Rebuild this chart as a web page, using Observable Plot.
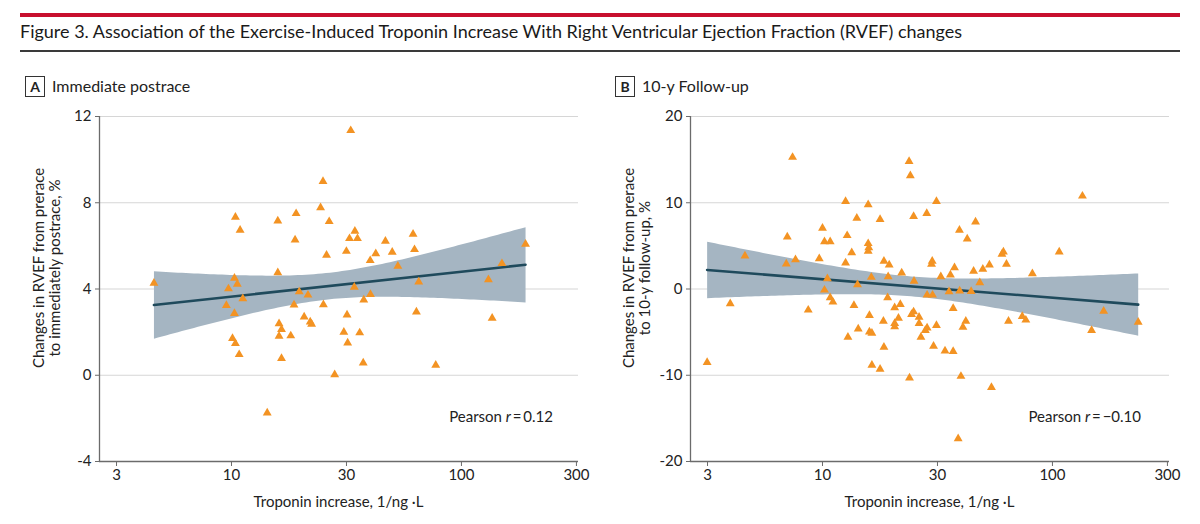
<!DOCTYPE html>
<html><head><meta charset="utf-8">
<script src="https://cdn.jsdelivr.net/npm/d3@7"></script>
<script src="https://cdn.jsdelivr.net/npm/@observablehq/plot@0.6"></script>
<style>
body{margin:0;background:#fff;}
#root{position:relative;width:1200px;height:524px;overflow:hidden;font-family:Lato,"Open Sans",sans-serif;color:#222;}
.abs{position:absolute;white-space:nowrap;}
.svgwrap{position:absolute;}
.svgwrap svg text{font-size:15px !important;fill:#222;}
</style></head><body><div id="root"></div>
<script>
const titleText = "Figure 3. Association of the Exercise-Induced Troponin Increase With Right Ventricular Ejection Fraction (RVEF) changes";
const panelLetters = ["A", "B"];
const panelTitles = ["Immediate postrace", "10-y Follow-up"];
const yLabelLinesA = ["Changes in RVEF from prerace", "to immediately postrace, %"];
const yLabelLinesB = ["Changes in RVEF from prerace", "to 10-y follow-up, %"];
const xLabel = "Troponin increase, 1/ng \u00b7L";
const xTickLabels = ["3", "10", "30", "100", "300"];
const xTickExponents = [0.5, 1, 1.5, 2, 2.5];
const yTicksA = [-4, 0, 4, 8, 12];
const yTicksB = [-20, -10, 0, 10, 20];
const pearsonR = ["0.12", "\u22120.10"];

const troponinA = [4.6,9.7,10.3,10.6,10.4,10.9,11.2,9.5,10.3,10.1,10.4,10.8,14.3,15.9,15.9,16.1,16.5,16.1,16.5,18.1,18.7,18.9,19.1,19.7,20.7,21.5,22.0,22.3,24.4,25.0,26.6,25.9,25.1,28.1,30.8,31.6,31.8,32.0,32.6,33.0,34.4,35.3,34.2,36.1,37.6,37.4,40.2,40.1,42.4,46.7,50.0,52.9,61.6,62.5,63.7,65.2,77.3,131,136,150,190];
const rvefA = [4.27,4.01,4.50,4.22,7.33,6.73,3.55,3.24,2.87,1.71,1.47,0.96,-1.75,7.16,4.76,2.39,2.13,1.81,0.78,1.83,3.26,6.28,7.50,3.87,2.71,3.72,2.47,2.37,7.77,8.99,7.13,5.57,3.27,0.03,2.00,5.75,2.80,1.50,6.34,11.35,6.68,6.34,4.09,1.97,3.49,0.57,3.75,5.32,5.64,6.22,5.71,5.06,6.54,5.83,2.94,4.33,0.47,4.43,2.65,5.18,6.08];

const troponinB = [3.15,3.97,4.60,7.41,7.03,6.96,7.63,8.67,9.68,10.0,10.2,10.8,10.5,10.2,10.8,11.1,12.6,12.8,12.6,13.4,12.9,13.7,14.1,14.2,14.3,15.8,15.8,15.9,15.8,16.0,16.0,16.3,16.4,16.4,17.8,17.8,18.5,18.4,18.5,19.2,19.3,19.5,20.6,20.6,20.6,21.4,21.8,22.1,23.8,24.1,23.9,24.4,24.9,24.9,25.0,26.3,26.3,26.8,28.0,28.5,28.4,28.5,30.1,29.8,30.0,30.4,31.3,31.3,32.7,34.1,35.5,36.0,37.0,37.0,37.5,38.9,39.4,39.5,40.0,40.8,42.0,42.6,44.3,45.4,46.3,48.3,49.8,53.2,54.3,60.3,61.2,63.1,64.4,73.9,76.6,81.8,107,135,148,167,236];
const rvefB = [-8.52,-1.71,3.84,15.27,6.05,2.91,3.41,-2.44,3.52,7.06,5.50,5.50,1.20,-0.12,-1.01,-1.51,10.15,6.20,3.02,4.22,-5.58,-1.90,8.22,0.50,-4.62,9.77,5.27,4.80,4.38,-3.06,-4.97,1.36,-5.12,-8.84,8.06,-9.30,3.22,-3.72,-6.74,-1.01,1.43,2.79,-2.17,-3.99,-4.38,-3.37,-1.78,1.86,14.80,13.14,-10.31,-2.94,-2.64,8.41,0.90,-3.26,-3.99,-5.58,-4.80,-4.50,8.76,-0.70,-0.70,2.87,3.22,-6.63,10.15,-4.22,1.43,-7.17,-0.31,1.63,-2.24,-7.24,2.48,-17.36,6.83,-0.23,-10.12,-4.42,-3.72,5.81,-0.27,2.06,7.79,0.73,2.29,2.79,-11.40,4.03,4.30,2.87,-3.72,-3.17,-3.60,1.78,4.30,10.78,-4.80,-2.56,-3.84];

const FONT = 'Lato, "Open Sans", sans-serif';
const root = document.getElementById("root");
function addDiv(html, css) {
  const d = document.createElement("div");
  d.className = "abs";
  d.innerHTML = html;
  Object.assign(d.style, css);
  root.appendChild(d);
  return d;
}

// header
addDiv("", {left: "20px", top: "13px", width: "1160px", height: "4px", background: "#c8102e"});
addDiv(titleText, {left: "20px", top: "21px", fontSize: "18px", lineHeight: "20px", color: "#1a1a1a"});
addDiv("", {left: "20px", top: "50px", width: "1160px", height: "2px", background: "#3a3a3a"});

const xTickValues = xTickExponents.map(e => Math.pow(10, e));
function xFmt(d) {
  const i = xTickExponents.findIndex(e => Math.abs(Math.log10(d) - e) < 1e-6);
  return i >= 0 ? xTickLabels[i] : "";
}

function panel(tro, rv, yTicks, ci) {
  const data = tro.map((t, i) => ({t, v: rv[i]}));
  const yDomain = [yTicks[0], yTicks[yTicks.length - 1]];
  const xDomain = [Math.pow(10, 0.426), Math.pow(10, 2.509)];
  return Plot.plot({
    width: 600, height: 420,
    marginLeft: 99, marginRight: 22, marginTop: 16, marginBottom: 59,
    style: {fontFamily: FONT, fontSize: "15px", color: "#222", background: "transparent", overflow: "visible"},
    x: {type: "log", domain: xDomain},
    y: {domain: yDomain},
    marks: [
      Plot.gridY(yTicks.slice(1), {stroke: "#d6d6d6", strokeOpacity: 1, strokeWidth: 1.2}),
      Plot.linearRegressionY(data, {x: "t", y: "v", ci, stroke: "#1f4a5c", fill: "#a5b5c2", fillOpacity: 1, strokeWidth: 2.6}),
      Plot.dot(data, {x: "t", y: "v", symbol: "triangle", r: 3.3, fill: "#f39323"}),
      Plot.ruleX([xDomain[0]], {stroke: "#6b6b6b", strokeWidth: 1.3}),
      Plot.ruleY([yDomain[0]], {stroke: "#6b6b6b", strokeWidth: 1.3}),
      Plot.axisY({ticks: yTicks, tickSize: 4, tickPadding: 4, tickFormat: d => String(d), label: null, stroke: "#6b6b6b", fontSize: 15, fill: "#222"}),
      Plot.axisX({ticks: xTickValues, tickSize: 5, tickPadding: 3, tickFormat: xFmt, label: null, stroke: "#6b6b6b", fontSize: 15, fill: "#222"})
    ]
  });
}

const panels = [
  {tro: troponinA, rv: rvefA, ticks: yTicksA, ci: 0.95, ox: 0, yl: yLabelLinesA},
  {tro: troponinB, rv: rvefB, ticks: yTicksB, ci: 0.95, ox: 591, yl: yLabelLinesB}
];
panels.forEach((p, k) => {
  const w = document.createElement("div");
  w.className = "svgwrap";
  w.style.left = p.ox + "px";
  w.style.top = "100px";
  w.appendChild(panel(p.tro, p.rv, p.ticks, p.ci));
  root.appendChild(w);
  // panel letter box
  addDiv(panelLetters[k], {left: (25 + p.ox - (k ? 1 : 0)) + "px", top: "76px", width: "18px", height: "19px",
    border: "1px solid #333", textAlign: "center", fontWeight: "700", fontSize: "14px", lineHeight: "19px"});
  addDiv(panelTitles[k], {left: (52 + p.ox - (k ? 1 : 0)) + "px", top: "76px", fontSize: "16px", lineHeight: "20px"});
  // y label
  addDiv(p.yl.join("<br>"), {left: (46 + p.ox - (k ? 1 : 0)) + "px", top: "268px", fontSize: "15px", lineHeight: "16px",
    textAlign: "center", transform: "translate(-50%,-50%) rotate(-90deg)"});
  // x label
  addDiv(xLabel, {left: (338.5 + p.ox) + "px", top: "492px", fontSize: "15px", lineHeight: "18px", transform: "translateX(-50%)"});
  // pearson
  addDiv("Pearson <i>r</i>\u2009=\u2009" + pearsonR[k], {left: (553 + p.ox - (k ? 3 : 0)) + "px", top: "407px", fontSize: "15px", lineHeight: "18px", transform: "translateX(-100%)"});
});
</script></body></html>
